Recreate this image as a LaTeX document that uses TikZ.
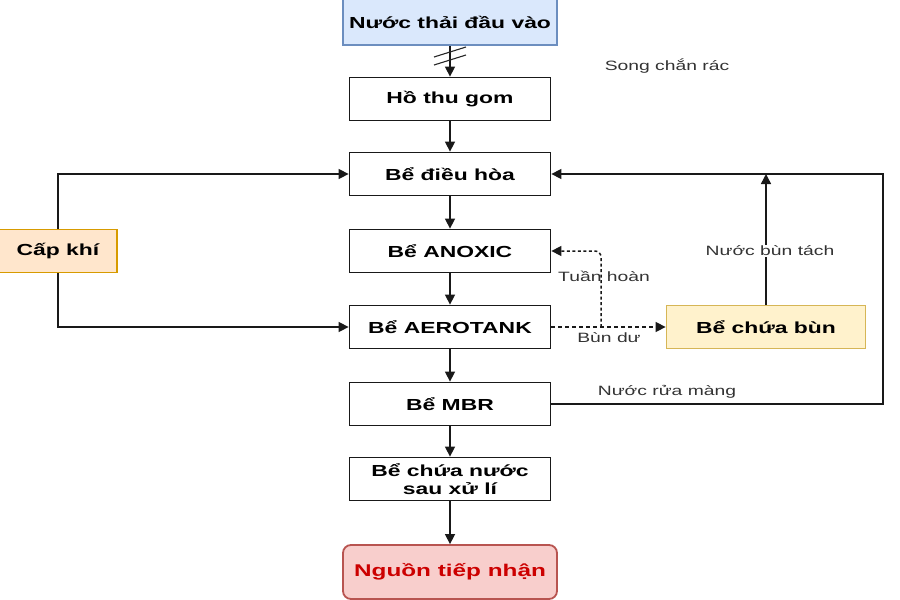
\documentclass[tikz,border=0pt]{standalone}
\usepackage{fontspec}
\setmainfont{Liberation Sans}[FakeStretch=1.43]
\usetikzlibrary{arrows.meta,calc}
\definecolor{blueF}{HTML}{DAE8FC}\definecolor{blueD}{HTML}{6C8EBF}
\definecolor{redF}{HTML}{F8CECC}\definecolor{redD}{HTML}{B85450}\definecolor{redT}{HTML}{CC0000}
\definecolor{orF}{HTML}{FFE6CC}\definecolor{orD}{HTML}{D79B00}
\definecolor{yeF}{HTML}{FFF2CC}\definecolor{yeD}{HTML}{D6B656}
\tikzset{
 box/.style={draw=black!90,line width=1.8pt,minimum width=201pt,minimum height=43pt,font=\fontsize{16}{18}\selectfont\bfseries,align=center,inner sep=1pt},
 lbl/.style={font=\fontsize{13.5}{15}\selectfont,text=black!80,inner sep=1pt},
 conn/.style={line width=1.5pt,black!90,-{Triangle[length=10pt,width=10pt]}},
 dconn/.style={conn,dash pattern=on 4pt off 3pt}
}
\begin{document}
\begin{tikzpicture}[x=1pt,y=-1pt]
\useasboundingbox (0,0) rectangle (900,600);
\node[box,fill=blueF,draw=blueD,minimum width=214pt,minimum height=46pt] (in) at (450,22) {Nước thải đầu vào};
\node[box] (ho) at (450,99) {Hồ thu gom};
\node[box] (dh) at (450,174) {Bể điều hòa};
\node[box] (an) at (450,251) {Bể ANOXIC};
\node[box] (ae) at (450,327) {Bể AEROTANK};
\node[box] (mbr) at (450,404) {Bể MBR};
\node[box] (cn) at (450,479) {Bể chứa nước\\sau xử lí};
\node[box,fill=redF,draw=redD,text=redT,rounded corners=8pt,minimum width=214pt,minimum height=54pt,font=\fontsize{17}{19}\selectfont\bfseries] (ng) at (450,572) {Nguồn tiếp nhận};
\node[box,fill=orF,draw=orD,minimum width=118pt] (ck) at (58,251) {Cấp khí};
\node[box,fill=yeF,draw=yeD,minimum width=199pt] (cb) at (766,327) {Bể chứa bùn};
\node[lbl] (song) at (667,66) {Song chắn rác};
% main chain
\draw[conn] (in) -- (ho);
\coordinate (m1) at (450,52); \coordinate (m2) at (450,60);
\draw[line width=1.1pt,black!85] ($(m1)+(-16,5)$) -- ($(m1)+(16,-5)$);
\draw[line width=1.1pt,black!85] ($(m2)+(-16,5)$) -- ($(m2)+(16,-5)$);
\draw[conn] (ho) -- (dh);
\draw[conn] (dh) -- (an);
\draw[conn] (an) -- (ae);
\draw[conn] (ae) -- (mbr);
\draw[conn] (mbr) -- (cn);
\draw[conn] (cn) -- (ng);
% air
\draw[conn] (ck.north) |- (dh.west);
\draw[conn] (ck.south) |- (ae.west);
% sludge
\draw[dconn] (ae.east) -- (cb.west);
\coordinate (tj) at (601,327);
\draw[conn,dash pattern=on 3pt off 2.5pt,rounded corners=6pt] (tj) -- (601,251) -- (an.east);
\node[lbl] (th) at (604,276) {Tuần hoàn};
\node[lbl] (bd) at (609,338) {Bùn dư};
\draw[conn] (cb.north) -- (766,174);
\node[lbl,fill=white] (nbt) at (770,251) {Nước bùn tách};
\draw[conn] (mbr.east) -- (883,404) -- (883,174) -- (dh.east);
\node[lbl] (nrm) at (667,392) {Nước rửa màng};
\end{tikzpicture}
\end{document}
